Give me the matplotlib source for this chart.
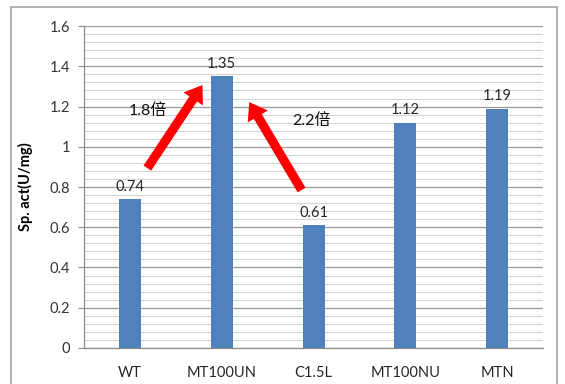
import numpy as np
import matplotlib.pyplot as plt
from matplotlib.patches import Rectangle

plt.rcParams['font.family'] = ['Lato', 'Noto Sans CJK SC', 'DejaVu Sans']

# data
samples = ['WT', 'MT100UN', 'C1.5L', 'MT100NU', 'MTN']
activity = [0.74, 1.35, 0.61, 1.12, 1.19]
value_labels = ['0.74', '1.35', '0.61', '1.12', '1.19']

# fold-change notes: (text, text pos, arrow tail, arrow tip) in data coords
notes = ['1.8倍', '2.2倍']
note_xy = [(0.19, 1.18), (1.98, 1.13)]
arrow_from = [(0.19, 0.894), (1.87, 0.785)]
arrow_to = [(0.79, 1.307), (1.30, 1.222)]

fig = plt.figure(figsize=(5.65, 3.84), dpi=100)
ax = fig.add_axes([0.1487, 0.094, 0.8124, 0.838])

x = np.arange(len(samples))
ax.bar(x, activity, width=0.24, color='#4F81BD', zorder=3)
for xi, v, lab in zip(x, activity, value_labels):
    ax.annotate(lab, (xi, v), xytext=(0, 4), textcoords='offset points',
                ha='center', va='bottom', fontsize=10.5, color='#262626', zorder=5)

ax.set_xlim(-0.5, len(samples) - 0.5)
ax.set_ylim(0, 1.6)
ax.set_yticks(np.arange(0, 1.61, 0.2))
ax.set_yticklabels(['0', '0.2', '0.4', '0.6', '0.8', '1', '1.2', '1.4', '1.6'])
ax.set_yticks(np.arange(0, 1.61, 0.04), minor=True)
ax.set_xticks(x)
ax.set_xticklabels(samples)

ax.grid(axis='y', which='major', color='#9A9A9A', lw=0.9, zorder=0)
ax.grid(axis='y', which='minor', color='#D4D4D4', lw=0.8, zorder=0)
ax.tick_params(axis='y', which='major', length=4, color='#8C8C8C', labelsize=10.5,
               labelcolor='#333333', pad=6)
ax.tick_params(axis='y', which='minor', length=0)
ax.tick_params(axis='x', length=0, labelsize=10.5, labelcolor='#262626', pad=13)
for s in ['top', 'right']:
    ax.spines[s].set_visible(False)
for s in ['left', 'bottom']:
    ax.spines[s].set_color('#8C8C8C')
    ax.spines[s].set_linewidth(0.9)

ax.set_ylabel('Sp. act(U/mg)', fontsize=10.5, fontweight='bold', labelpad=12)

for txt, (tx, ty), (x0, y0), (x1, y1) in zip(notes, note_xy, arrow_from, arrow_to):
    ax.annotate('', xy=(x1, y1), xytext=(x0, y0),
                arrowprops=dict(arrowstyle='simple,head_length=1.0,head_width=1.4,tail_width=0.55',
                                color='#FF0000', lw=0, shrinkA=0, shrinkB=0,
                                mutation_scale=12), zorder=6)
    ax.text(tx, ty, txt, ha='center', va='center', fontsize=11.5, color='#111111', zorder=6)

# outer chart frame
fig.patches.append(Rectangle((11 / 565, -0.01), 546 / 565, 1 - 7 / 384 + 0.01,
                             transform=fig.transFigure, fill=False,
                             edgecolor='#A6A6A6', lw=1.2))

fig.savefig('out.png', dpi=100)
